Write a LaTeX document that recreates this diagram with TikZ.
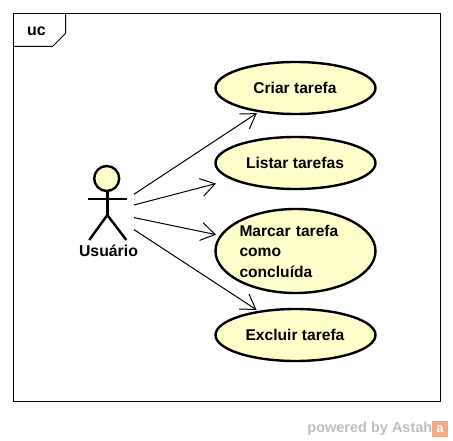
\documentclass[tikz,border=0pt]{standalone}
\usepackage{fontspec}
\setmainfont{Liberation Sans}
\usetikzlibrary{positioning,arrows.meta}
\definecolor{usecase}{RGB}{255,255,204}
\definecolor{astah}{RGB}{240,170,135}
\tikzset{
  assoc/.style={draw=black,line width=1pt,shorten >=-1.5pt,-{Straight Barb[length=14pt,width=18pt]}},
  ucbox/.style={rectangle,minimum width=161pt,minimum height=#1,inner sep=0pt,outer sep=0pt,
    font=\fontsize{15.6}{20.5}\selectfont\bfseries},
  ucshape/.style={draw=black,fill=usecase,line width=2.4pt},
  actorline/.style={draw=black,line width=2.4pt}
}

\begin{document}
\begin{tikzpicture}[x=1pt,y=-1pt]
\useasboundingbox (0,0) rectangle (453,441);

% frame
\draw[line width=1.2pt] (13.5,13.5) rectangle (440.5,401.5);
\draw[line width=1pt] (13.5,46.5)--(52.5,46.5)--(65.5,33.5)--(65.5,13.5);
\node[font=\fontsize{16}{18}\selectfont\bfseries] (frametag) at (36.5,31.5) {uc};

% actor
\begin{scope}[xshift=107.3pt]
  \draw[actorline,fill=usecase] (-0.6,178.5) circle (12.5);
  \draw[actorline] (-19,199)--(20,199);
  \draw[actorline] (0,191)--(0,215);
  \draw[actorline] (-18,240)--(0,215)--(19,240);
\end{scope}
\node[rectangle,minimum width=54pt,minimum height=60pt,inner sep=0pt,outer sep=0pt] (actor) at (107,212) {};
\node[font=\fontsize{15.8}{18}\selectfont\bfseries,inner sep=0pt,below=3pt of actor,xshift=1.5pt] (usuario) {Usuário};

% use cases
\foreach \cy/\ry in {88/26,163/26,251/42,335/26}{
  \draw[ucshape] (295.5,\cy) ellipse (80 and \ry);
}
\node[ucbox=52pt] (criar) at (295,88) {Criar tarefa};
\node[ucbox=52pt] (listar) at (295,163) {Listar tarefas};
\node[ucbox=84pt,align=left,inner xsep=25pt,text width=111pt] (marcar) at (295,251)
  {Marcar tarefa\\como\\concluída};
\node[ucbox=52pt] (excluir) at (295,335) {Excluir tarefa};

% associations
\foreach \uc in {criar,listar,marcar,excluir}{
  \draw[assoc] (actor) -- (\uc);
}

% footer
\node[text=black!25,font=\fontsize{14.5}{16}\selectfont\bfseries,anchor=east,inner sep=0pt] (powered) at (432.5,428.5) {powered by Astah};
\node[rectangle,fill=astah,minimum size=16pt,inner sep=0pt,outer sep=0pt,anchor=west,
  text=white,font=\fontsize{13}{13}\selectfont\bfseries] (logo) at (432,429) {a};
\end{tikzpicture}
\end{document}
